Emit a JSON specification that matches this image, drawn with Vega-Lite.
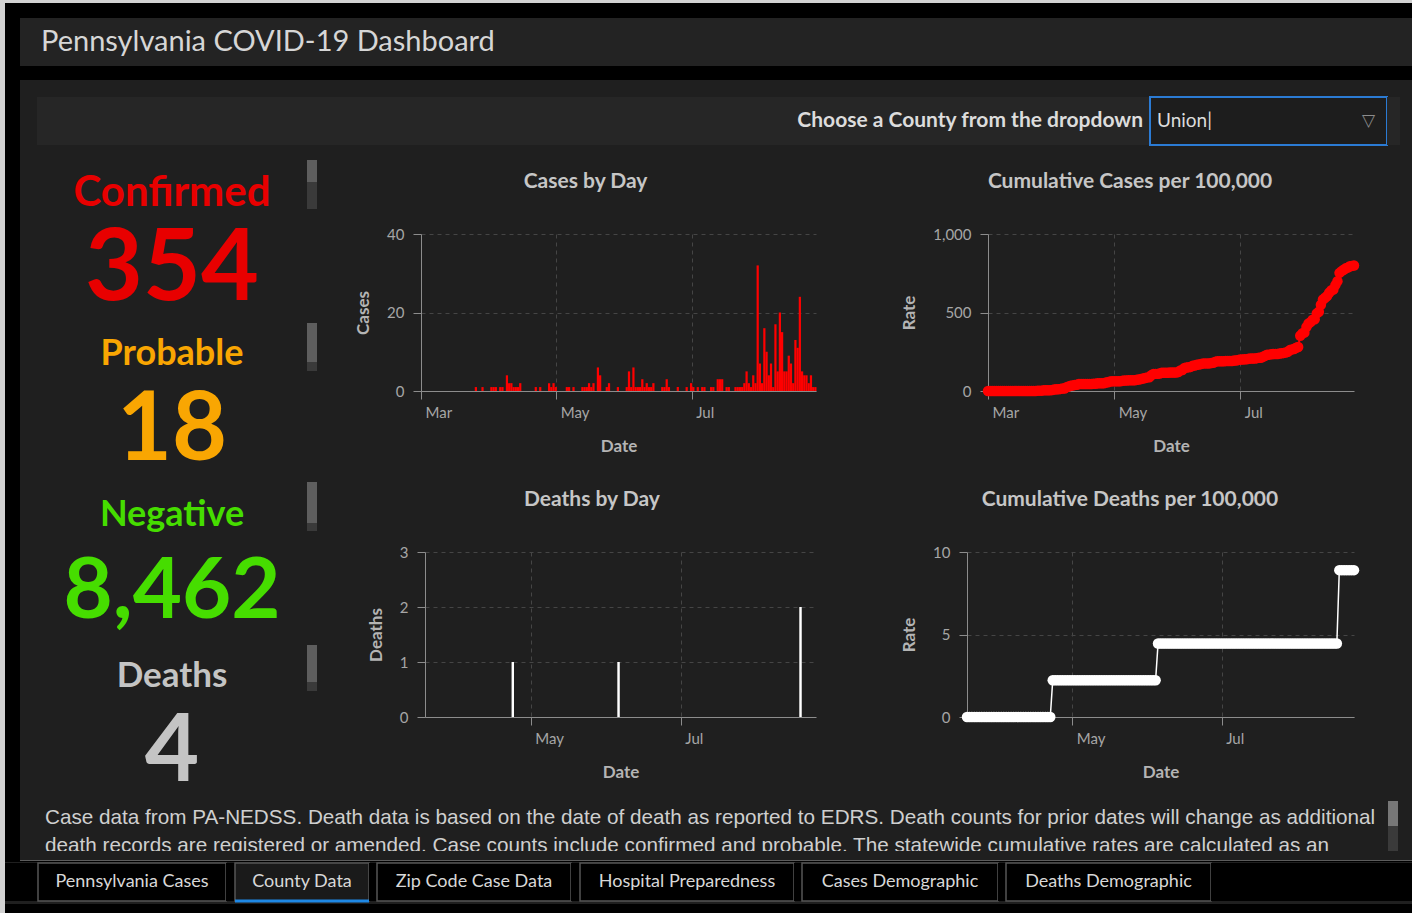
{
"$schema": "https://vega.github.io/schema/vega-lite/v6.json",
"padding": 0,
"background": "#1f1f1f",
"spacing": 0,
"config": {
 "font": "Lato",
 "view": {"stroke": null},
 "concat": {"spacing": 0},
 "axis": {"labelFont": "Lato", "labelFontSize": 15, "labelColor": "#a6a6a6", "titleFont": "Lato", "titleFontSize": 17, "titleFontWeight": "bold", "titleColor": "#b4b4b4", "domainColor": "#8c8c8c", "tickColor": "#8c8c8c", "gridColor": "#454545", "gridDash": [4, 4], "tickSize": 8},
 "title": {"font": "Lato", "fontSize": 21, "fontWeight": "bold", "color": "#c6c6c6", "offset": 35, "frame": "bounds"},
 "text": {"font": "Lato"}
},
"datasets": {
 "cases": [
  {"date":"2020-03-01","cases":0,"rate":0},{"date":"2020-03-02","cases":0,"rate":0},{"date":"2020-03-03","cases":0,"rate":0},{"date":"2020-03-04","cases":0,"rate":0},{"date":"2020-03-05","cases":0,"rate":0},{"date":"2020-03-06","cases":0,"rate":0},{"date":"2020-03-07","cases":0,"rate":0},{"date":"2020-03-08","cases":0,"rate":0},{"date":"2020-03-09","cases":0,"rate":0},{"date":"2020-03-10","cases":0,"rate":0},{"date":"2020-03-11","cases":0,"rate":0},{"date":"2020-03-12","cases":0,"rate":0},{"date":"2020-03-13","cases":0,"rate":0},{"date":"2020-03-14","cases":0,"rate":0},{"date":"2020-03-15","cases":0,"rate":0},{"date":"2020-03-16","cases":0,"rate":0},{"date":"2020-03-17","cases":0,"rate":0},{"date":"2020-03-18","cases":0,"rate":0},{"date":"2020-03-19","cases":0,"rate":0},{"date":"2020-03-20","cases":0,"rate":0},{"date":"2020-03-21","cases":0,"rate":0},{"date":"2020-03-22","cases":0,"rate":0},{"date":"2020-03-23","cases":0,"rate":0},{"date":"2020-03-24","cases":0,"rate":0},
  {"date":"2020-03-25","cases":1,"rate":2.2},{"date":"2020-03-26","cases":0,"rate":2.2},{"date":"2020-03-27","cases":0,"rate":2.2},{"date":"2020-03-28","cases":1,"rate":4.5},{"date":"2020-03-29","cases":0,"rate":4.5},{"date":"2020-03-30","cases":0,"rate":4.5},{"date":"2020-03-31","cases":0,"rate":4.5},
  {"date":"2020-04-01","cases":1,"rate":6.7},{"date":"2020-04-02","cases":1,"rate":8.9},{"date":"2020-04-03","cases":1,"rate":11.1},{"date":"2020-04-04","cases":0,"rate":11.1},{"date":"2020-04-05","cases":1,"rate":13.4},{"date":"2020-04-06","cases":1,"rate":15.6},{"date":"2020-04-07","cases":0,"rate":15.6},{"date":"2020-04-08","cases":4,"rate":24.5},{"date":"2020-04-09","cases":2,"rate":28.9},{"date":"2020-04-10","cases":2,"rate":33.4},{"date":"2020-04-11","cases":1,"rate":35.6},{"date":"2020-04-12","cases":1,"rate":37.8},{"date":"2020-04-13","cases":1,"rate":40.1},{"date":"2020-04-14","cases":2,"rate":44.5},{"date":"2020-04-15","cases":0,"rate":44.5},{"date":"2020-04-16","cases":0,"rate":44.5},{"date":"2020-04-17","cases":0,"rate":44.5},{"date":"2020-04-18","cases":0,"rate":44.5},{"date":"2020-04-19","cases":0,"rate":44.5},{"date":"2020-04-20","cases":0,"rate":44.5},{"date":"2020-04-21","cases":1,"rate":46.7},{"date":"2020-04-22","cases":0,"rate":46.7},{"date":"2020-04-23","cases":1,"rate":49.0},{"date":"2020-04-24","cases":0,"rate":49.0},{"date":"2020-04-25","cases":0,"rate":49.0},{"date":"2020-04-26","cases":0,"rate":49.0},{"date":"2020-04-27","cases":2,"rate":53.4},{"date":"2020-04-28","cases":1,"rate":55.7},{"date":"2020-04-29","cases":2,"rate":60.1},{"date":"2020-04-30","cases":1,"rate":62.3},
  {"date":"2020-05-01","cases":0,"rate":62.3},{"date":"2020-05-02","cases":0,"rate":62.3},{"date":"2020-05-03","cases":0,"rate":62.3},{"date":"2020-05-04","cases":0,"rate":62.3},{"date":"2020-05-05","cases":1,"rate":64.6},{"date":"2020-05-06","cases":1,"rate":66.8},{"date":"2020-05-07","cases":0,"rate":66.8},{"date":"2020-05-08","cases":1,"rate":69.0},{"date":"2020-05-09","cases":0,"rate":69.0},{"date":"2020-05-10","cases":0,"rate":69.0},{"date":"2020-05-11","cases":0,"rate":69.0},{"date":"2020-05-12","cases":1,"rate":71.2},{"date":"2020-05-13","cases":1,"rate":73.5},{"date":"2020-05-14","cases":1,"rate":75.7},{"date":"2020-05-15","cases":2,"rate":80.1},{"date":"2020-05-16","cases":1,"rate":82.4},{"date":"2020-05-17","cases":2,"rate":86.8},{"date":"2020-05-18","cases":0,"rate":86.8},{"date":"2020-05-19","cases":6,"rate":100.2},{"date":"2020-05-20","cases":4,"rate":109.1},{"date":"2020-05-21","cases":0,"rate":109.1},{"date":"2020-05-22","cases":0,"rate":109.1},{"date":"2020-05-23","cases":1,"rate":111.3},{"date":"2020-05-24","cases":2,"rate":115.8},{"date":"2020-05-25","cases":0,"rate":115.8},{"date":"2020-05-26","cases":0,"rate":115.8},{"date":"2020-05-27","cases":0,"rate":115.8},{"date":"2020-05-28","cases":1,"rate":118.0},{"date":"2020-05-29","cases":0,"rate":118.0},{"date":"2020-05-30","cases":0,"rate":118.0},{"date":"2020-05-31","cases":0,"rate":118.0},
  {"date":"2020-06-01","cases":1,"rate":120.2},{"date":"2020-06-02","cases":5,"rate":131.3},{"date":"2020-06-03","cases":1,"rate":133.6},{"date":"2020-06-04","cases":6,"rate":146.9},{"date":"2020-06-05","cases":1,"rate":149.1},{"date":"2020-06-06","cases":1,"rate":151.4},{"date":"2020-06-07","cases":1,"rate":153.6},{"date":"2020-06-08","cases":3,"rate":160.3},{"date":"2020-06-09","cases":1,"rate":162.5},{"date":"2020-06-10","cases":2,"rate":167.0},{"date":"2020-06-11","cases":1,"rate":169.2},{"date":"2020-06-12","cases":1,"rate":171.4},{"date":"2020-06-13","cases":2,"rate":175.9},{"date":"2020-06-14","cases":0,"rate":175.9},{"date":"2020-06-15","cases":0,"rate":175.9},{"date":"2020-06-16","cases":0,"rate":175.9},{"date":"2020-06-17","cases":1,"rate":178.1},{"date":"2020-06-18","cases":1,"rate":180.3},{"date":"2020-06-19","cases":3,"rate":187.0},{"date":"2020-06-20","cases":1,"rate":189.2},{"date":"2020-06-21","cases":0,"rate":189.2},{"date":"2020-06-22","cases":0,"rate":189.2},{"date":"2020-06-23","cases":0,"rate":189.2},{"date":"2020-06-24","cases":1,"rate":191.4},{"date":"2020-06-25","cases":0,"rate":191.4},{"date":"2020-06-26","cases":0,"rate":191.4},{"date":"2020-06-27","cases":0,"rate":191.4},{"date":"2020-06-28","cases":1,"rate":193.7},{"date":"2020-06-29","cases":0,"rate":193.7},{"date":"2020-06-30","cases":2,"rate":198.1},
  {"date":"2020-07-01","cases":1,"rate":200.3},{"date":"2020-07-02","cases":0,"rate":200.3},{"date":"2020-07-03","cases":1,"rate":202.6},{"date":"2020-07-04","cases":0,"rate":202.6},{"date":"2020-07-05","cases":1,"rate":204.8},{"date":"2020-07-06","cases":1,"rate":207.0},{"date":"2020-07-07","cases":0,"rate":207.0},{"date":"2020-07-08","cases":0,"rate":207.0},{"date":"2020-07-09","cases":1,"rate":209.2},{"date":"2020-07-10","cases":1,"rate":211.5},{"date":"2020-07-11","cases":0,"rate":211.5},{"date":"2020-07-12","cases":3,"rate":218.1},{"date":"2020-07-13","cases":3,"rate":224.8},{"date":"2020-07-14","cases":3,"rate":231.5},{"date":"2020-07-15","cases":0,"rate":231.5},{"date":"2020-07-16","cases":1,"rate":233.7},{"date":"2020-07-17","cases":1,"rate":236.0},{"date":"2020-07-18","cases":0,"rate":236.0},{"date":"2020-07-19","cases":0,"rate":236.0},{"date":"2020-07-20","cases":1,"rate":238.2},{"date":"2020-07-21","cases":1,"rate":240.4},{"date":"2020-07-22","cases":1,"rate":242.6},{"date":"2020-07-23","cases":1,"rate":244.9},{"date":"2020-07-24","cases":2,"rate":249.3},{"date":"2020-07-25","cases":5,"rate":260.4},{"date":"2020-07-26","cases":2,"rate":264.9},{"date":"2020-07-27","cases":1,"rate":267.1},{"date":"2020-07-28","cases":4,"rate":276.0},{"date":"2020-07-29","cases":2,"rate":280.5},{"date":"2020-07-30","cases":32,"rate":351.7},{"date":"2020-07-31","cases":7,"rate":367.3},
  {"date":"2020-08-01","cases":2,"rate":371.7},{"date":"2020-08-02","cases":16,"rate":407.4},{"date":"2020-08-03","cases":10,"rate":429.6},{"date":"2020-08-04","cases":4,"rate":438.5},{"date":"2020-08-05","cases":7,"rate":454.1},{"date":"2020-08-06","cases":1,"rate":456.3},{"date":"2020-08-07","cases":17,"rate":494.2},{"date":"2020-08-08","cases":5,"rate":505.3},{"date":"2020-08-09","cases":20,"rate":549.8},{"date":"2020-08-10","cases":15,"rate":583.2},{"date":"2020-08-11","cases":5,"rate":594.3},{"date":"2020-08-12","cases":5,"rate":605.5},{"date":"2020-08-13","cases":9,"rate":625.5},{"date":"2020-08-14","cases":7,"rate":641.1},{"date":"2020-08-15","cases":2,"rate":645.5},{"date":"2020-08-16","cases":13,"rate":674.5},{"date":"2020-08-17","cases":11,"rate":699.0},{"date":"2020-08-18","cases":24,"rate":752.4},{"date":"2020-08-19","cases":5,"rate":763.5},{"date":"2020-08-20","cases":4,"rate":772.4},{"date":"2020-08-21","cases":4,"rate":781.3},{"date":"2020-08-22","cases":2,"rate":785.8},{"date":"2020-08-23","cases":4,"rate":794.7},{"date":"2020-08-24","cases":1,"rate":796.9},{"date":"2020-08-25","cases":1,"rate":799.1}
 ],
 "deaths": [
  {"date":"2020-03-19","deaths":0,"rate":0},{"date":"2020-03-20","deaths":0,"rate":0},{"date":"2020-03-21","deaths":0,"rate":0},{"date":"2020-03-22","deaths":0,"rate":0},{"date":"2020-03-23","deaths":0,"rate":0},{"date":"2020-03-24","deaths":0,"rate":0},{"date":"2020-03-25","deaths":0,"rate":0},{"date":"2020-03-26","deaths":0,"rate":0},{"date":"2020-03-27","deaths":0,"rate":0},{"date":"2020-03-28","deaths":0,"rate":0},{"date":"2020-03-29","deaths":0,"rate":0},{"date":"2020-03-30","deaths":0,"rate":0},{"date":"2020-03-31","deaths":0,"rate":0},
  {"date":"2020-04-01","deaths":0,"rate":0},{"date":"2020-04-02","deaths":0,"rate":0},{"date":"2020-04-03","deaths":0,"rate":0},{"date":"2020-04-04","deaths":0,"rate":0},{"date":"2020-04-05","deaths":0,"rate":0},{"date":"2020-04-06","deaths":0,"rate":0},{"date":"2020-04-07","deaths":0,"rate":0},{"date":"2020-04-08","deaths":0,"rate":0},{"date":"2020-04-09","deaths":0,"rate":0},{"date":"2020-04-10","deaths":0,"rate":0},{"date":"2020-04-11","deaths":0,"rate":0},{"date":"2020-04-12","deaths":0,"rate":0},{"date":"2020-04-13","deaths":0,"rate":0},{"date":"2020-04-14","deaths":0,"rate":0},{"date":"2020-04-15","deaths":0,"rate":0},{"date":"2020-04-16","deaths":0,"rate":0},{"date":"2020-04-17","deaths":0,"rate":0},{"date":"2020-04-18","deaths":0,"rate":0},{"date":"2020-04-19","deaths":0,"rate":0},{"date":"2020-04-20","deaths":0,"rate":0},{"date":"2020-04-21","deaths":0,"rate":0},{"date":"2020-04-22","deaths":0,"rate":0},{"date":"2020-04-23","deaths":1,"rate":2.23},{"date":"2020-04-24","deaths":0,"rate":2.23},{"date":"2020-04-25","deaths":0,"rate":2.23},{"date":"2020-04-26","deaths":0,"rate":2.23},{"date":"2020-04-27","deaths":0,"rate":2.23},{"date":"2020-04-28","deaths":0,"rate":2.23},{"date":"2020-04-29","deaths":0,"rate":2.23},{"date":"2020-04-30","deaths":0,"rate":2.23},
  {"date":"2020-05-01","deaths":0,"rate":2.23},{"date":"2020-05-02","deaths":0,"rate":2.23},{"date":"2020-05-03","deaths":0,"rate":2.23},{"date":"2020-05-04","deaths":0,"rate":2.23},{"date":"2020-05-05","deaths":0,"rate":2.23},{"date":"2020-05-06","deaths":0,"rate":2.23},{"date":"2020-05-07","deaths":0,"rate":2.23},{"date":"2020-05-08","deaths":0,"rate":2.23},{"date":"2020-05-09","deaths":0,"rate":2.23},{"date":"2020-05-10","deaths":0,"rate":2.23},{"date":"2020-05-11","deaths":0,"rate":2.23},{"date":"2020-05-12","deaths":0,"rate":2.23},{"date":"2020-05-13","deaths":0,"rate":2.23},{"date":"2020-05-14","deaths":0,"rate":2.23},{"date":"2020-05-15","deaths":0,"rate":2.23},{"date":"2020-05-16","deaths":0,"rate":2.23},{"date":"2020-05-17","deaths":0,"rate":2.23},{"date":"2020-05-18","deaths":0,"rate":2.23},{"date":"2020-05-19","deaths":0,"rate":2.23},{"date":"2020-05-20","deaths":0,"rate":2.23},{"date":"2020-05-21","deaths":0,"rate":2.23},{"date":"2020-05-22","deaths":0,"rate":2.23},{"date":"2020-05-23","deaths":0,"rate":2.23},{"date":"2020-05-24","deaths":0,"rate":2.23},{"date":"2020-05-25","deaths":0,"rate":2.23},{"date":"2020-05-26","deaths":0,"rate":2.23},{"date":"2020-05-27","deaths":0,"rate":2.23},{"date":"2020-05-28","deaths":0,"rate":2.23},{"date":"2020-05-29","deaths":0,"rate":2.23},{"date":"2020-05-30","deaths":0,"rate":2.23},{"date":"2020-05-31","deaths":0,"rate":2.23},
  {"date":"2020-06-01","deaths":0,"rate":2.23},{"date":"2020-06-02","deaths":0,"rate":2.23},{"date":"2020-06-03","deaths":0,"rate":2.23},{"date":"2020-06-04","deaths":0,"rate":2.23},{"date":"2020-06-05","deaths":1,"rate":4.45},{"date":"2020-06-06","deaths":0,"rate":4.45},{"date":"2020-06-07","deaths":0,"rate":4.45},{"date":"2020-06-08","deaths":0,"rate":4.45},{"date":"2020-06-09","deaths":0,"rate":4.45},{"date":"2020-06-10","deaths":0,"rate":4.45},{"date":"2020-06-11","deaths":0,"rate":4.45},{"date":"2020-06-12","deaths":0,"rate":4.45},{"date":"2020-06-13","deaths":0,"rate":4.45},{"date":"2020-06-14","deaths":0,"rate":4.45},{"date":"2020-06-15","deaths":0,"rate":4.45},{"date":"2020-06-16","deaths":0,"rate":4.45},{"date":"2020-06-17","deaths":0,"rate":4.45},{"date":"2020-06-18","deaths":0,"rate":4.45},{"date":"2020-06-19","deaths":0,"rate":4.45},{"date":"2020-06-20","deaths":0,"rate":4.45},{"date":"2020-06-21","deaths":0,"rate":4.45},{"date":"2020-06-22","deaths":0,"rate":4.45},{"date":"2020-06-23","deaths":0,"rate":4.45},{"date":"2020-06-24","deaths":0,"rate":4.45},{"date":"2020-06-25","deaths":0,"rate":4.45},{"date":"2020-06-26","deaths":0,"rate":4.45},{"date":"2020-06-27","deaths":0,"rate":4.45},{"date":"2020-06-28","deaths":0,"rate":4.45},{"date":"2020-06-29","deaths":0,"rate":4.45},{"date":"2020-06-30","deaths":0,"rate":4.45},
  {"date":"2020-07-01","deaths":0,"rate":4.45},{"date":"2020-07-02","deaths":0,"rate":4.45},{"date":"2020-07-03","deaths":0,"rate":4.45},{"date":"2020-07-04","deaths":0,"rate":4.45},{"date":"2020-07-05","deaths":0,"rate":4.45},{"date":"2020-07-06","deaths":0,"rate":4.45},{"date":"2020-07-07","deaths":0,"rate":4.45},{"date":"2020-07-08","deaths":0,"rate":4.45},{"date":"2020-07-09","deaths":0,"rate":4.45},{"date":"2020-07-10","deaths":0,"rate":4.45},{"date":"2020-07-11","deaths":0,"rate":4.45},{"date":"2020-07-12","deaths":0,"rate":4.45},{"date":"2020-07-13","deaths":0,"rate":4.45},{"date":"2020-07-14","deaths":0,"rate":4.45},{"date":"2020-07-15","deaths":0,"rate":4.45},{"date":"2020-07-16","deaths":0,"rate":4.45},{"date":"2020-07-17","deaths":0,"rate":4.45},{"date":"2020-07-18","deaths":0,"rate":4.45},{"date":"2020-07-19","deaths":0,"rate":4.45},{"date":"2020-07-20","deaths":0,"rate":4.45},{"date":"2020-07-21","deaths":0,"rate":4.45},{"date":"2020-07-22","deaths":0,"rate":4.45},{"date":"2020-07-23","deaths":0,"rate":4.45},{"date":"2020-07-24","deaths":0,"rate":4.45},{"date":"2020-07-25","deaths":0,"rate":4.45},{"date":"2020-07-26","deaths":0,"rate":4.45},{"date":"2020-07-27","deaths":0,"rate":4.45},{"date":"2020-07-28","deaths":0,"rate":4.45},{"date":"2020-07-29","deaths":0,"rate":4.45},{"date":"2020-07-30","deaths":0,"rate":4.45},{"date":"2020-07-31","deaths":0,"rate":4.45},
  {"date":"2020-08-01","deaths":0,"rate":4.45},{"date":"2020-08-02","deaths":0,"rate":4.45},{"date":"2020-08-03","deaths":0,"rate":4.45},{"date":"2020-08-04","deaths":0,"rate":4.45},{"date":"2020-08-05","deaths":0,"rate":4.45},{"date":"2020-08-06","deaths":0,"rate":4.45},{"date":"2020-08-07","deaths":0,"rate":4.45},{"date":"2020-08-08","deaths":0,"rate":4.45},{"date":"2020-08-09","deaths":0,"rate":4.45},{"date":"2020-08-10","deaths":0,"rate":4.45},{"date":"2020-08-11","deaths":0,"rate":4.45},{"date":"2020-08-12","deaths":0,"rate":4.45},{"date":"2020-08-13","deaths":0,"rate":4.45},{"date":"2020-08-14","deaths":0,"rate":4.45},{"date":"2020-08-15","deaths":0,"rate":4.45},{"date":"2020-08-16","deaths":0,"rate":4.45},{"date":"2020-08-17","deaths":0,"rate":4.45},{"date":"2020-08-18","deaths":2,"rate":8.9},{"date":"2020-08-19","deaths":0,"rate":8.9},{"date":"2020-08-20","deaths":0,"rate":8.9},{"date":"2020-08-21","deaths":0,"rate":8.9},{"date":"2020-08-22","deaths":0,"rate":8.9},{"date":"2020-08-23","deaths":0,"rate":8.9},{"date":"2020-08-24","deaths":0,"rate":8.9}
 ]
},
"vconcat": [
 {"width": 1412, "height": 3, "view": {"fill": "#d2d2d2"}, "data": {"values": []}, "mark": "point"},
 {"spacing": 0, "hconcat": [
  {"width": 5, "height": 910, "view": {"fill": "#d2d2d2"}, "data": {"values": []}, "mark": "point"},
  {"spacing": 0, "vconcat": [
   {"width": 1407, "height": 15, "view": {"fill": "#000000"}, "data": {"values": []}, "mark": "point"},
   {"spacing": 0, "bounds": "flush", "hconcat": [
    {"width": 15, "height": 48, "view": {"fill": "#000000"}, "data": {"values": []}, "mark": "point"},
    {"width": 1392, "height": 48, "view": {"fill": "#232323"}, "data": {"values": [{"t": "Pennsylvania COVID-19 Dashboard"}]},
     "mark": {"type": "text", "align": "left", "baseline": "middle", "fontSize": 29, "color": "#d6d6d6", "dx": 21},
     "encoding": {"text": {"field": "t"}, "x": {"value": 0}}}
   ]},
   {"width": 1407, "height": 14, "view": {"fill": "#000000"}, "data": {"values": []}, "mark": "point"},
   {"spacing": 0, "hconcat": [
    {"width": 15, "height": 780, "view": {"fill": "#000000"}, "data": {"values": []}, "mark": "point"},
    {"spacing": 0, "vconcat": [
     {"width": 1392, "height": 16, "data": {"values": []}, "mark": "point"},
     {"spacing": 0, "bounds": "flush", "hconcat": [
      {"width": 17, "height": 48, "data": {"values": []}, "mark": "point"},
      {"width": 1106, "height": 48, "view": {"fill": "#262626"}, "data": {"values": [{"t": "Choose a County from the dropdown"}]},
       "mark": {"type": "text", "align": "right", "baseline": "middle", "fontSize": 21, "fontWeight": "bold", "color": "#dcdcdc"},
       "encoding": {"text": {"field": "t"}, "x": {"value": "width"}}},
      {"width": 7, "height": 48, "view": {"fill": "#262626"}, "data": {"values": []}, "mark": "point"},
      {"width": 237, "height": 48, "view": {"fill": "#1d1d1d", "stroke": "#2b7bd4", "strokeWidth": 2}, "data": {"values": [{"v": "Union|", "arrow": "▽"}]},
       "layer": [
        {"mark": {"type": "text", "align": "left", "baseline": "middle", "fontSize": 19, "color": "#dcdcdc", "dx": 7}, "encoding": {"text": {"field": "v"}, "x": {"value": 0}}},
        {"mark": {"type": "text", "align": "right", "baseline": "middle", "fontSize": 17, "font": "DejaVu Sans", "color": "#8c8c8c", "dx": -12}, "encoding": {"text": {"field": "arrow"}, "x": {"value": "width"}}}
       ]},
      {"width": 13, "height": 48, "view": {"fill": "#262626"}, "data": {"values": []}, "mark": "point"}
     ]},
     {"spacing": 0, "hconcat": [
      {"width": 17, "height": 650, "data": {"values": []}, "mark": "point"},
      {"width": 270, "height": 645,
       "data": {"values": [{"metric": "Confirmed", "value": "354"}, {"metric": "Probable", "value": "18"}, {"metric": "Negative", "value": "8,462"}, {"metric": "Deaths", "value": "4"}]},
       "encoding": {
        "y": {"field": "metric", "type": "nominal", "axis": null, "scale": {"type": "point", "padding": 0.5, "domain": ["Confirmed", "Probable", "Negative", "Deaths"]}},
        "color": {"field": "metric", "type": "nominal", "legend": null, "scale": {"domain": ["Confirmed", "Probable", "Negative", "Deaths"], "range": ["#e80000", "#f9a602", "#46dd00", "#c4c4c4"]}}
       },
       "layer": [
        {"mark": {"type": "text", "fontWeight": "bold", "baseline": "middle", "dy": -34},
         "encoding": {"text": {"field": "metric"}, "size": {"field": "metric", "type": "nominal", "legend": null, "scale": {"type": "ordinal", "domain": ["Confirmed", "Probable", "Negative", "Deaths"], "range": [42, 36, 36, 35]}}}},
        {"mark": {"type": "text", "fontWeight": "bold", "baseline": "middle", "dy": 43},
         "encoding": {"text": {"field": "value"}, "size": {"field": "metric", "type": "nominal", "legend": null, "scale": {"type": "ordinal", "domain": ["Confirmed", "Probable", "Negative", "Deaths"], "range": [100, 95, 85, 94]}}}}
       ],
       "resolve": {"scale": {"size": "independent"}}},
      {"spacing": 0, "bounds": "flush", "vconcat": [
       {"width": 10, "height": 14, "data": {"values": []}, "mark": "point"},
       {"width": 10, "height": 22, "view": {"fill": "#5e5e5e"}, "data": {"values": []}, "mark": "point"},
       {"width": 10, "height": 27, "view": {"fill": "#3a3a3a"}, "data": {"values": []}, "mark": "point"},
       {"width": 10, "height": 114, "data": {"values": []}, "mark": "point"},
       {"width": 10, "height": 39, "view": {"fill": "#5e5e5e"}, "data": {"values": []}, "mark": "point"},
       {"width": 10, "height": 9, "view": {"fill": "#3a3a3a"}, "data": {"values": []}, "mark": "point"},
       {"width": 10, "height": 111, "data": {"values": []}, "mark": "point"},
       {"width": 10, "height": 41, "view": {"fill": "#5e5e5e"}, "data": {"values": []}, "mark": "point"},
       {"width": 10, "height": 8, "view": {"fill": "#3a3a3a"}, "data": {"values": []}, "mark": "point"},
       {"width": 10, "height": 114, "data": {"values": []}, "mark": "point"},
       {"width": 10, "height": 37, "view": {"fill": "#5e5e5e"}, "data": {"values": []}, "mark": "point"},
       {"width": 10, "height": 9, "view": {"fill": "#3a3a3a"}, "data": {"values": []}, "mark": "point"}
      ]},
      {"width": 3, "height": 650, "data": {"values": []}, "mark": "point"},
      {"spacing": 0, "vconcat": [
       {"spacing": 0, "bounds": "flush", "columns": 4, "concat": [
        {"width": 10, "height": 88, "data": {"values": []}, "mark": "point"},
        {"width": 10, "height": 88, "data": {"values": []}, "mark": "point"},
        {"width": 10, "height": 88, "data": {"values": []}, "mark": "point"},
        {"width": 10, "height": 88, "data": {"values": []}, "mark": "point"},
        {"width": 101, "height": 157, "data": {"values": []}, "mark": "point"},
        {"width": 395, "height": 157, "data": {"name": "cases"}, "title": {"text": "Cases by Day"},
         "mark": {"type": "bar", "color": "#ff0000", "binSpacing": 0},
         "encoding": {
          "x": {"field": "date", "type": "temporal", "timeUnit": "yearmonthdate", "title": "Date",
                "axis": {"format": "%b", "tickCount": {"interval": "month", "step": 2}, "labelAlign": "left", "labelFlush": false, "labelOffset": 4, "labelPadding": 6, "titlePadding": 18}},
          "y": {"field": "cases", "type": "quantitative", "title": "Cases", "scale": {"domain": [0, 40]},
                "axis": {"values": [0, 20, 40], "titlePadding": 14, "labelPadding": 9}}
         }},
        {"width": 172, "height": 157, "data": {"values": []}, "mark": "point"},
        {"width": 366, "height": 157, "data": {"name": "cases"}, "title": {"text": "Cumulative Cases per 100,000"},
         "encoding": {
          "x": {"field": "date", "type": "temporal", "title": "Date",
                "axis": {"format": "%b", "tickCount": {"interval": "month", "step": 2}, "labelAlign": "left", "labelFlush": false, "labelOffset": 4, "labelPadding": 6, "titlePadding": 18}},
          "y": {"field": "rate", "type": "quantitative", "title": "Rate", "scale": {"domain": [0, 1000]},
                "axis": {"values": [0, 500, 1000], "format": ",.0f", "titlePadding": 14, "labelPadding": 9}}
         },
         "layer": [
          {"mark": {"type": "line", "color": "#ff0000", "strokeWidth": 2}},
          {"mark": {"type": "point", "filled": true, "color": "#ff0000", "size": 110, "opacity": 1}}
         ]},
        {"width": 10, "height": 80, "data": {"values": []}, "mark": "point"},
        {"width": 10, "height": 80, "data": {"values": []}, "mark": "point"},
        {"width": 10, "height": 80, "data": {"values": []}, "mark": "point"},
        {"width": 10, "height": 80, "data": {"values": []}, "mark": "point"}
       ]},
       {"spacing": 0, "bounds": "flush", "columns": 4, "concat": [
        {"width": 10, "height": 81, "data": {"values": []}, "mark": "point"},
        {"width": 10, "height": 81, "data": {"values": []}, "mark": "point"},
        {"width": 10, "height": 81, "data": {"values": []}, "mark": "point"},
        {"width": 10, "height": 81, "data": {"values": []}, "mark": "point"},
        {"width": 105, "height": 165, "data": {"values": []}, "mark": "point"},
        {"width": 391, "height": 165, "data": {"name": "deaths"}, "title": {"text": "Deaths by Day"},
         "mark": {"type": "bar", "color": "#ffffff", "binSpacing": 0},
         "encoding": {
          "x": {"field": "date", "type": "temporal", "timeUnit": "yearmonthdate", "title": "Date",
                "axis": {"format": "%b", "tickCount": {"interval": "month", "step": 2}, "labelAlign": "left", "labelFlush": false, "labelOffset": 4, "labelPadding": 6, "titlePadding": 18}},
          "y": {"field": "deaths", "type": "quantitative", "title": "Deaths", "scale": {"domain": [0, 3]},
                "axis": {"values": [0, 1, 2, 3], "titlePadding": 14, "labelPadding": 9}}
         }},
        {"width": 151, "height": 165, "data": {"values": []}, "mark": "point"},
        {"width": 387, "height": 165, "data": {"name": "deaths"}, "title": {"text": "Cumulative Deaths per 100,000"},
         "encoding": {
          "x": {"field": "date", "type": "temporal", "title": "Date",
                "axis": {"format": "%b", "tickCount": {"interval": "month", "step": 2}, "labelAlign": "left", "labelFlush": false, "labelOffset": 4, "labelPadding": 6, "titlePadding": 18}},
          "y": {"field": "rate", "type": "quantitative", "title": "Rate", "scale": {"domain": [0, 10]},
                "axis": {"values": [0, 5, 10], "titlePadding": 14, "labelPadding": 9}}
         },
         "layer": [
          {"mark": {"type": "line", "color": "#ffffff", "strokeWidth": 1.5}},
          {"mark": {"type": "point", "filled": true, "color": "#ffffff", "size": 110, "opacity": 1}}
         ]},
        {"width": 10, "height": 79, "data": {"values": []}, "mark": "point"},
        {"width": 10, "height": 79, "data": {"values": []}, "mark": "point"},
        {"width": 10, "height": 79, "data": {"values": []}, "mark": "point"},
        {"width": 10, "height": 79, "data": {"values": []}, "mark": "point"}
       ]}
      ]}
     ]},
     {"spacing": 0, "hconcat": [
      {"width": 25, "height": 50, "data": {"values": []}, "mark": "point"},
      {"width": 1343, "height": 50,
       "data": {"values": [{"t": ["Case data from PA-NEDSS.  Death data is based on the date of death as reported to EDRS. Death counts for prior dates will change as additional", "death records are registered or amended.  Case counts include confirmed and probable. The statewide cumulative rates are calculated as an"]}]},
       "mark": {"type": "text", "align": "left", "baseline": "top", "font": "Liberation Sans", "fontSize": 20.7, "lineHeight": 28, "color": "#cfcfcf", "clip": true, "dy": 7},
       "encoding": {"text": {"field": "t"}, "x": {"value": 0}, "y": {"value": 0}}},
      {"spacing": 0, "bounds": "flush", "vconcat": [
       {"width": 10, "height": 25, "view": {"fill": "#777777"}, "data": {"values": []}, "mark": "point"},
       {"width": 10, "height": 25, "view": {"fill": "#3a3a3a"}, "data": {"values": []}, "mark": "point"}
      ]}
     ]},
     {"width": 1392, "height": 7, "data": {"values": []}, "mark": "point"}
    ]}
   ]},
   {"spacing": 0, "vconcat": [
    {"spacing": 0, "bounds": "flush", "hconcat": [
     {"width": 15, "height": 1, "view": {"fill": "#000000"}, "data": {"values": []}, "mark": "point"},
     {"width": 1392, "height": 1, "view": {"fill": "#5c5c5c"}, "data": {"values": []}, "mark": "point"}
    ]},
    {"width": 1407, "height": 1, "view": {"fill": "#000000"}, "data": {"values": []}, "mark": "point"},
    {"spacing": 0, "bounds": "flush", "hconcat": [
     {"width": 33, "height": 38, "view": {"fill": "#000000"}, "data": {"values": []}, "mark": "point"},
     {"width": 188, "height": 38, "view": {"fill": "#000000", "stroke": "#555555", "strokeWidth": 1.5}, "data": {"values": [{"tab": "Pennsylvania Cases"}]}, "mark": {"type": "text", "fontSize": 18, "color": "#d8d8d8", "baseline": "middle"}, "encoding": {"text": {"field": "tab"}}},
     {"width": 9, "height": 38, "view": {"fill": "#000000"}, "data": {"values": []}, "mark": "point"},
     {"width": 134, "height": 38, "view": {"fill": "#1a1a1a", "stroke": "#555555", "strokeWidth": 1.5}, "data": {"values": [{"tab": "County Data"}]},
      "layer": [
       {"mark": {"type": "text", "fontSize": 18, "color": "#d8d8d8", "baseline": "middle"}, "encoding": {"text": {"field": "tab"}}},
       {"mark": {"type": "rule", "color": "#1e88e5", "strokeWidth": 3}, "encoding": {"x": {"value": 0}, "x2": {"value": "width"}, "y": {"value": "height"}}}
      ]},
     {"width": 8, "height": 38, "view": {"fill": "#000000"}, "data": {"values": []}, "mark": "point"},
     {"width": 194, "height": 38, "view": {"fill": "#000000", "stroke": "#555555", "strokeWidth": 1.5}, "data": {"values": [{"tab": "Zip Code Case Data"}]}, "mark": {"type": "text", "fontSize": 18, "color": "#d8d8d8", "baseline": "middle"}, "encoding": {"text": {"field": "tab"}}},
     {"width": 9, "height": 38, "view": {"fill": "#000000"}, "data": {"values": []}, "mark": "point"},
     {"width": 214, "height": 38, "view": {"fill": "#000000", "stroke": "#555555", "strokeWidth": 1.5}, "data": {"values": [{"tab": "Hospital Preparedness"}]}, "mark": {"type": "text", "fontSize": 18, "color": "#d8d8d8", "baseline": "middle"}, "encoding": {"text": {"field": "tab"}}},
     {"width": 8, "height": 38, "view": {"fill": "#000000"}, "data": {"values": []}, "mark": "point"},
     {"width": 196, "height": 38, "view": {"fill": "#000000", "stroke": "#555555", "strokeWidth": 1.5}, "data": {"values": [{"tab": "Cases Demographic"}]}, "mark": {"type": "text", "fontSize": 18, "color": "#d8d8d8", "baseline": "middle"}, "encoding": {"text": {"field": "tab"}}},
     {"width": 8, "height": 38, "view": {"fill": "#000000"}, "data": {"values": []}, "mark": "point"},
     {"width": 205, "height": 38, "view": {"fill": "#000000", "stroke": "#555555", "strokeWidth": 1.5}, "data": {"values": [{"tab": "Deaths Demographic"}]}, "mark": {"type": "text", "fontSize": 18, "color": "#d8d8d8", "baseline": "middle"}, "encoding": {"text": {"field": "tab"}}},
     {"width": 201, "height": 38, "view": {"fill": "#000000"}, "data": {"values": []}, "mark": "point"}
    ]},
    {"width": 1407, "height": 13, "view": {"fill": "#000000"}, "data": {"values": []}, "mark": "point"}
   ]}
  ]}
 ]}
]
}
